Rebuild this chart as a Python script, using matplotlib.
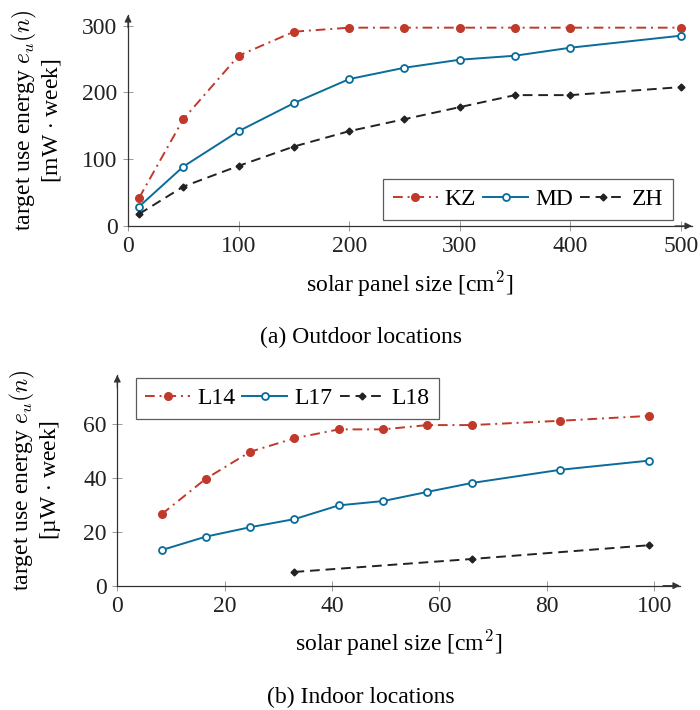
import matplotlib
matplotlib.use("Agg")
import matplotlib.pyplot as plt

plt.rcParams['font.family'] = ['Liberation Serif', 'DejaVu Serif']
plt.rcParams['mathtext.fontset'] = 'cm'
plt.rcParams['font.size'] = 17

# --- outdoor locations (mW * week) ---
out_size = [10, 50, 100, 150, 200, 250, 300, 350, 400, 500]
kz = [42, 160, 255, 291, 297, 297, 297, 297, 297, 297]
md = [29, 89, 142, 184, 220, 237, 249, 255, 267, 285]
zh = [18, 59, 90, 119, 142, 160, 178, 196, 196, 208]

# --- indoor locations (uW * week) ---
in_size = [8.25, 16.5, 24.75, 33, 41.25, 49.5, 57.75, 66, 82.5, 99]
l14 = [26.5, 39.7, 49.7, 54.7, 58.0, 58.0, 59.6, 59.6, 61.2, 63.0]
l17 = [13.2, 18.2, 21.7, 24.7, 29.8, 31.4, 34.8, 38.1, 43.0, 46.4]
l18_size = [33, 66, 99]
l18 = [5.1, 9.9, 15.0]

RED = '#C0392B'
BLUE = '#0A6C9A'
BLACK = '#222222'
AXIS = '#333333'

fig = plt.figure(figsize=(7, 7.1), dpi=100)
ax1 = fig.add_axes([0.1829, 0.6817, 0.8057, 0.2972])
ax2 = fig.add_axes([0.1676, 0.1751, 0.8038, 0.2968])


def style_axes(ax):
    for s in ['top', 'right']:
        ax.spines[s].set_visible(False)
    for s in ['left', 'bottom']:
        ax.spines[s].set_color(AXIS)
        ax.spines[s].set_linewidth(0.9)
    ax.tick_params(direction='inout', length=7, width=0.7, color='#999999',
                   labelcolor=BLACK, pad=4)
    # arrow heads at the axis ends
    ax.annotate('', xy=(1.0, 0), xytext=(0.97, 0), xycoords='axes fraction',
                arrowprops=dict(arrowstyle='-|>', color=AXIS, lw=0.9,
                                mutation_scale=10, shrinkA=0, shrinkB=0))
    ax.annotate('', xy=(0, 1.0), xytext=(0, 0.94), xycoords='axes fraction',
                arrowprops=dict(arrowstyle='-|>', color=AXIS, lw=0.9,
                                mutation_scale=10, shrinkA=0, shrinkB=0))


def draw(ax, series):
    for x, y, lab, col, mk, ls, kw in series:
        ax.plot(x, y, color=col, marker=mk, dashes=ls, label=lab, lw=1.4,
                clip_on=False, **kw)


def add_legend(ax, **kw):
    leg = ax.legend(ncol=3, frameon=True, fancybox=False, edgecolor=AXIS,
                    handlelength=1.9, columnspacing=0.3, handletextpad=0.3,
                    borderpad=0.4, borderaxespad=0, **kw)
    leg.get_frame().set_linewidth(0.9)
    return leg


dashdot = (5, 2.5, 1, 2.5)
solid = ()
dashed = (5, 3)

# outdoor
draw(ax1, [
    (out_size, kz, 'KZ', RED, 'o', dashdot, dict(ms=5.5)),
    (out_size, md, 'MD', BLUE, 'o', solid, dict(ms=5, mfc='white', mew=1.3)),
    (out_size, zh, 'ZH', BLACK, 'D', dashed, dict(ms=3.5)),
])
style_axes(ax1)
ax1.set_xlim(0, 510)
ax1.set_ylim(0, 316)
ax1.set_xticks([0, 100, 200, 300, 400, 500])
ax1.set_yticks([0, 100, 200, 300])
ax1.set_xlabel(r'solar panel size [cm$^2$]', labelpad=8)
ax1.set_ylabel('target use energy $e_u(n)$\n[mW $\\cdot$ week]',
               linespacing=1.05)
ax1.yaxis.set_label_coords(-0.115, 0.5)
add_legend(ax1, loc='lower right', bbox_to_anchor=(0.966, 0.03))
fig.text(0.515, 0.525, '(a) Outdoor locations', ha='center', va='center')

# indoor
draw(ax2, [
    (in_size, l14, 'L14', RED, 'o', dashdot, dict(ms=5.5)),
    (in_size, l17, 'L17', BLUE, 'o', solid, dict(ms=5, mfc='white', mew=1.3)),
    (l18_size, l18, 'L18', BLACK, 'D', dashed, dict(ms=3.5)),
])
style_axes(ax2)
ax2.set_xlim(0, 104.8)
ax2.set_ylim(0, 78.2)
ax2.set_xticks([0, 20, 40, 60, 80, 100])
ax2.set_yticks([0, 20, 40, 60])
ax2.set_xlabel(r'solar panel size [cm$^2$]', labelpad=8)
ax2.set_ylabel('target use energy $e_u(n)$\n[µW $\\cdot$ week]',
               linespacing=1.05)
ax2.yaxis.set_label_coords(-0.097, 0.5)
add_legend(ax2, loc='upper left', bbox_to_anchor=(0.033, 0.985))
fig.text(0.516, 0.018, '(b) Indoor locations', ha='center', va='center')

fig.savefig('out.png', dpi=100)
